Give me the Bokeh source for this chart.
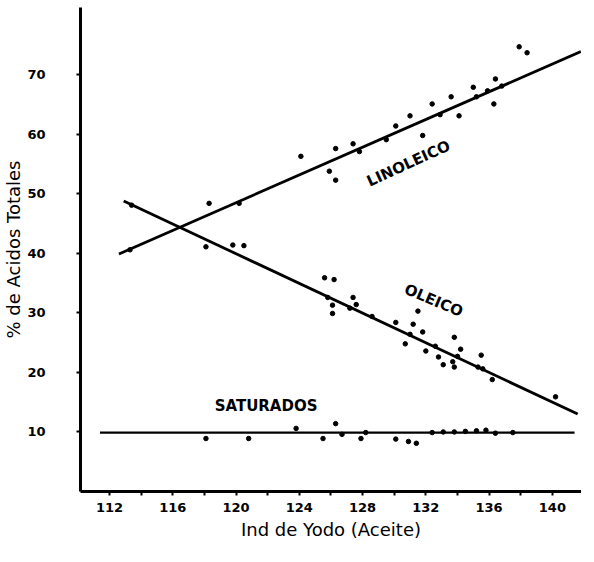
from bokeh.plotting import figure
from bokeh.models import Range1d, FixedTicker
from bokeh.embed import file_html
from bokeh.resources import INLINE
from bokeh.core.properties import value

# ---- data ----
x_ticks = [112, 116, 120, 124, 128, 132, 136, 140]
x_minor_ticks = [114, 118, 122, 126, 130, 134, 138]
y_ticks = [10, 20, 30, 40, 50, 60, 70]

# fitted lines (end points)
lino_line_x = [112.6, 141.8]
lino_line_y = [39.9, 73.9]
oleo_line_x = [112.9, 141.6]
oleo_line_y = [48.8, 13.0]
sat_line_x = [111.4, 141.4]
sat_line_y = [9.9, 9.9]

# observations
lino_x = [113.3, 118.3, 120.2, 124.1, 125.9, 126.3, 126.3, 127.4, 127.8, 129.5,
          130.1, 131.0, 131.8, 132.4, 132.9, 133.6, 134.1, 135.0, 135.2, 135.9,
          136.4, 136.3, 136.8, 137.9, 138.4]
lino_y = [40.6, 48.4, 48.4, 56.3, 53.8, 52.3, 57.6, 58.4, 57.1, 59.1,
          61.4, 63.1, 59.8, 65.1, 63.3, 66.3, 63.1, 67.9, 66.3, 67.3,
          69.3, 65.1, 68.1, 74.7, 73.7]

oleo_x = [113.4, 118.1, 119.8, 120.5, 125.6, 126.2, 126.1, 126.1, 125.8, 127.4,
          127.6, 127.2, 128.6, 131.5, 130.1, 131.2, 130.7, 131.0, 131.8, 132.0,
          132.6, 132.8, 133.1, 133.7, 133.8, 133.8, 134.0, 134.2, 135.5, 135.3,
          135.6, 136.2, 140.2]
oleo_y = [48.1, 41.1, 41.4, 41.3, 35.9, 35.6, 31.3, 29.9, 32.6, 32.6,
          31.4, 30.8, 29.4, 30.3, 28.4, 28.1, 24.8, 26.4, 26.8, 23.6,
          24.4, 22.6, 21.3, 21.8, 20.9, 25.9, 22.7, 23.9, 22.9, 20.9,
          20.6, 18.8, 15.9]

sat_x = [118.1, 120.8, 123.8, 125.5, 126.3, 126.7, 127.9, 128.2, 130.1, 130.9,
         131.4, 132.4, 133.1, 133.8, 134.5, 135.2, 135.8, 136.4, 137.5]
sat_y = [8.9, 8.9, 10.6, 8.9, 11.4, 9.6, 8.9, 9.9, 8.8, 8.4,
         8.1, 9.9, 10.0, 10.0, 10.1, 10.2, 10.3, 9.8, 9.9]

labels = ["LINOLEICO", "OLEICO", "SATURADOS"]
label_x = [130.9, 132.5, 121.9]
label_y = [55.1, 32.1, 14.4]
label_angle = [0.43, -0.40, 0.0]

FONT = "DejaVu Sans"

p = figure(width=578, height=546, output_backend="svg", toolbar_location=None,
           x_range=Range1d(110.17, 141.84), y_range=Range1d(0.0, 81.3),
           min_border_left=77, min_border_right=0, min_border_top=7,
           min_border_bottom=55)
p.frame_width = 501
p.frame_height = 484
p.outline_line_color = None
p.grid.visible = False
p.background_fill_color = "white"
p.border_fill_color = "white"

# lines
p.line(lino_line_x, lino_line_y, line_color="black", line_width=2.8)
p.line(oleo_line_x, oleo_line_y, line_color="black", line_width=2.8)
p.line(sat_line_x, sat_line_y, line_color="black", line_width=2.2)

# points
for xs, ys in ((lino_x, lino_y), (oleo_x, oleo_y), (sat_x, sat_y)):
    p.scatter(xs, ys, size=4.5, marker="circle", fill_color="black", line_color="black")

# series labels
p.text(x=label_x, y=label_y, text=labels, angle=label_angle,
       text_font=value(FONT), text_font_style="bold", text_font_size="15px",
       text_align="center", text_baseline="middle", text_color="black")

# axes
p.xaxis.ticker = FixedTicker(ticks=x_ticks, minor_ticks=x_minor_ticks)
p.yaxis.ticker = FixedTicker(ticks=y_ticks)
for ax in (p.xaxis[0], p.yaxis[0]):
    ax.axis_line_width = 3
    ax.axis_line_color = "black"
    ax.major_tick_line_width = 2
    ax.major_tick_line_color = "black"
    ax.major_tick_in = 0
    ax.major_tick_out = 4
    ax.minor_tick_line_color = None
    ax.major_label_text_font = FONT
    ax.major_label_text_font_style = "bold"
    ax.major_label_text_font_size = "13px"
    ax.major_label_text_color = "black"
    ax.axis_label_text_font = FONT
    ax.axis_label_text_font_style = "normal"
    ax.axis_label_text_font_size = "18px"
    ax.axis_label_text_color = "black"

p.xaxis.minor_tick_line_color = "black"
p.xaxis.minor_tick_line_width = 2
p.xaxis.minor_tick_in = 0
p.xaxis.minor_tick_out = 4

p.xaxis.axis_label = "Ind de Yodo (Aceite)"
p.yaxis.axis_label = "% de Acidos Totales"
p.xaxis.major_label_standoff = 7
p.xaxis.axis_label_standoff = 4
p.yaxis.major_label_standoff = 31
p.yaxis.axis_label_standoff = 0

open("out.html", "w").write(file_html(p, INLINE))
